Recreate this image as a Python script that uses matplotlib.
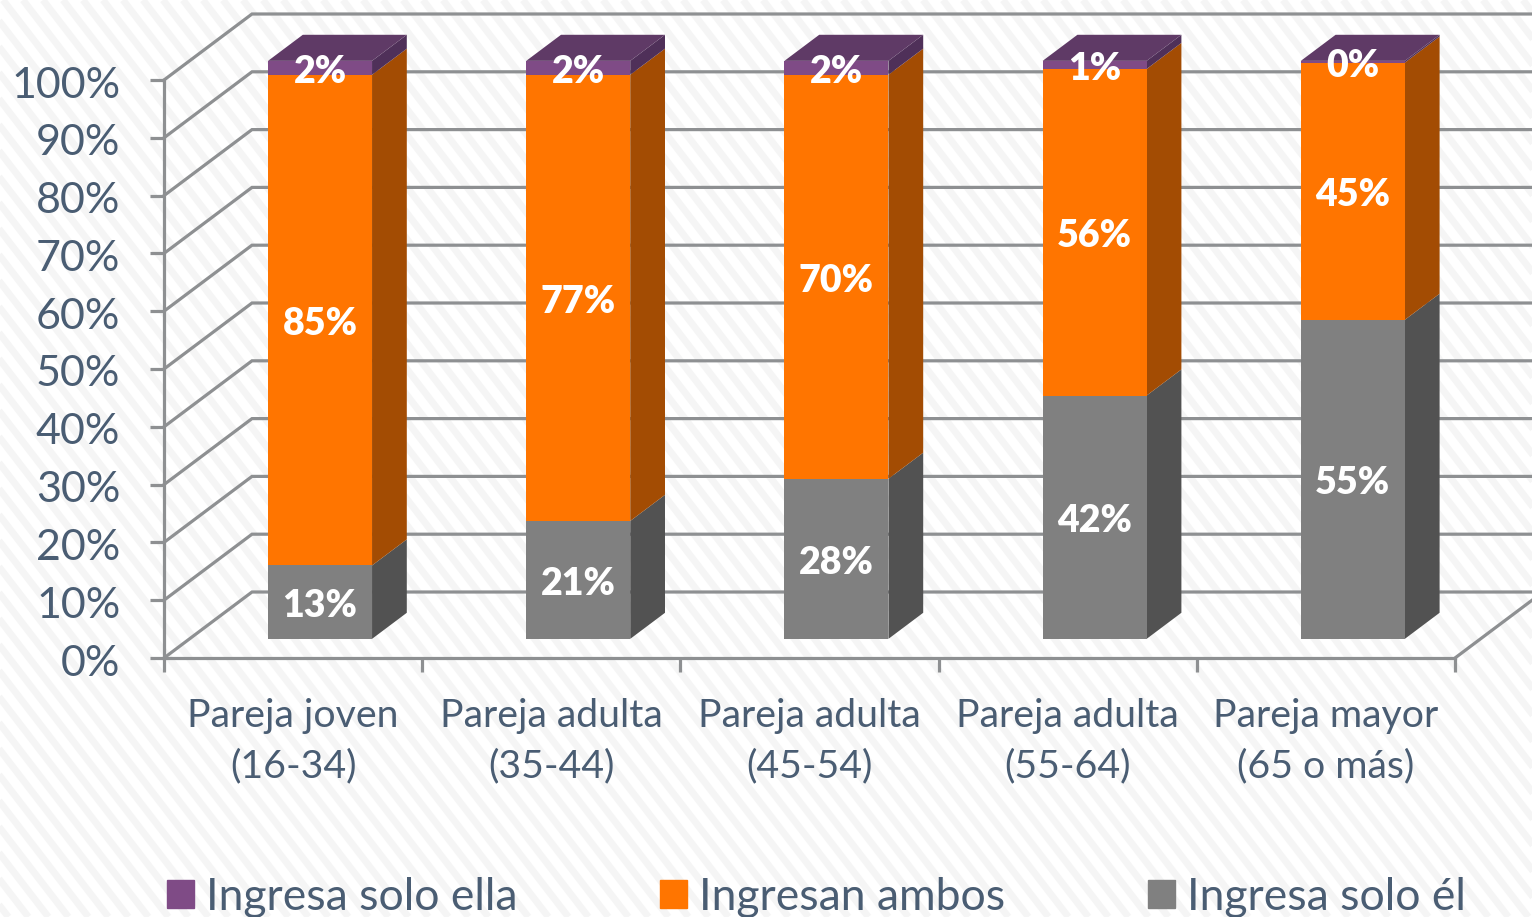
import numpy as np
import matplotlib
matplotlib.use("Agg")
import matplotlib.pyplot as plt
from matplotlib.collections import LineCollection
from matplotlib.patches import Patch
from matplotlib.transforms import ScaledTranslation

categories = ["Pareja joven\n(16-34)", "Pareja adulta\n(35-44)", "Pareja adulta\n(45-54)",
              "Pareja adulta\n(55-64)", "Pareja mayor\n(65 o más)"]
series_names = ["Ingresa solo ella", "Ingresan ambos", "Ingresa solo él"]
solo_el = [12.7, 20.4, 27.7, 42.1, 55.2]
ambos = [84.9, 77.2, 69.9, 56.5, 44.5]
solo_ella = [2.4, 2.4, 2.4, 1.4, 0.3]
label_el = ["13%", "21%", "28%", "42%", "55%"]
label_ambos = ["85%", "77%", "70%", "56%", "45%"]
label_ella = ["2%", "2%", "2%", "1%", "0%"]
yticks = list(range(0, 101, 10))

TXT = "#4a5d73"
GRID = "#8e9092"
W, H = 1532, 917
plt.rcParams["font.family"] = ["Lato", "DejaVu Sans"]
fig = plt.figure(figsize=(W / 100, H / 100), dpi=100, facecolor="white")

# striped background
bg = fig.add_axes([0, 0, 1, 1], zorder=0)
bg.set_xlim(0, W); bg.set_ylim(H, 0); bg.axis("off")
period = 20.0
slope = 1.3
segs = [[(x0, 0), (x0 + H / slope, H)] for x0 in np.arange(-H, W + period, period)]
bg.add_collection(LineCollection(segs, colors="#f5f5f5", linewidths=5.0))

ax = fig.add_axes([164 / W, 1 - 658 / H, (1455 - 164) / W, (658 - 80) / H], zorder=1)
ax.set_xlim(0, 5); ax.set_ylim(0, 100)
ax.patch.set_alpha(0)
for s in ("top", "right"):
    ax.spines[s].set_visible(False)
for s in ("left", "bottom"):
    ax.spines[s].set_color(GRID); ax.spines[s].set_linewidth(2.3)

DX = 88 / 258.2   # depth of the floor in category units
DY = 66 / 5.78    # depth of the floor in percent units

def pr(x, y, d):
    return x + DX * d, y + DY * d

lw = 2.3
# walls
for y in yticks:
    x1, y1 = pr(0, y, 1)
    ax.plot([0, x1, 6], [y, y1, y1], color=GRID, lw=lw, clip_on=False, zorder=1, solid_joinstyle="miter")
xe, ye = pr(5, 0, 1)
ax.plot([5, xe], [0, ye], color=GRID, lw=lw, clip_on=False, zorder=1)

# 3-D stacked bars
bw = 104 / 258.2
d0, d1 = 0.29, 0.685
shift = 0.0055
down = ScaledTranslation(0, -4 / 100, fig.dpi_scale_trans)
stack = [(solo_el, "#808080", "#525252", label_el),
         (ambos, "#ff7500", "#a34c03", label_ambos),
         (solo_ella, "#7f4b86", "#4f3059", label_ella)]
bottoms = np.zeros(5)
for vals, front, side, labs in stack:
    for i, v in enumerate(vals):
        xl = i + 0.5 - bw / 2 + shift
        xr = xl + bw
        b = bottoms[i]; t = b + v
        p = [pr(xr, b, d0), pr(xr, b, d1), pr(xr, t, d1), pr(xr, t, d0)]
        ax.fill(*zip(*p), color=side, lw=0, clip_on=False, zorder=3)
        p = [pr(xl, b, d0), pr(xr, b, d0), pr(xr, t, d0), pr(xl, t, d0)]
        ax.fill(*zip(*p), color=front, lw=0, clip_on=False, zorder=4)
        cx, cy = pr((xl + xr) / 2, b + v / 2, d0)
        ax.text(cx, cy, labs[i], color="white", fontsize=27, fontweight="heavy",
                ha="center", va="center", zorder=6, clip_on=False,
                transform=ax.transData + down)
    bottoms += np.array(vals)
for i in range(5):
    xl = i + 0.5 - bw / 2 + shift
    xr = xl + bw
    t = bottoms[i]
    p = [pr(xl, t, d0), pr(xr, t, d0), pr(xr, t, d1), pr(xl, t, d1)]
    ax.fill(*zip(*p), color="#5f3a66", lw=0, clip_on=False, zorder=5)

# axes ticks
ax.set_yticks(yticks)
ax.set_yticklabels([f"{v}%" for v in yticks], fontsize=31, color=TXT)
ax.tick_params(axis="y", length=10, width=2.3, color=GRID, pad=21.5)
for lab in ax.get_yticklabels():
    lab.set_transform(lab.get_transform() + ScaledTranslation(0, -2 / 100, fig.dpi_scale_trans))
ax.set_xticks(range(6)); ax.set_xticklabels([""] * 6)
ax.tick_params(axis="x", which="major", length=10, width=2.3, color=GRID)
ax.set_xticks(np.arange(5) + 0.5, minor=True)
ax.set_xticklabels(categories, minor=True, fontsize=28.3, color=TXT, linespacing=1.5)
ax.tick_params(axis="x", which="minor", length=0, pad=29)

handles = [Patch(color=c) for c in ("#7f4b86", "#ff7500", "#808080")]
fig.legend(handles, series_names, loc="lower left", bbox_to_anchor=(154 / W, -14 / H), ncol=3,
           frameon=False, fontsize=32, labelcolor=TXT, columnspacing=3.2,
           handlelength=0.61, handleheight=0.61, handletextpad=0.27, borderpad=0.3, borderaxespad=0)

fig.savefig("out.png", dpi=100, facecolor="white")
